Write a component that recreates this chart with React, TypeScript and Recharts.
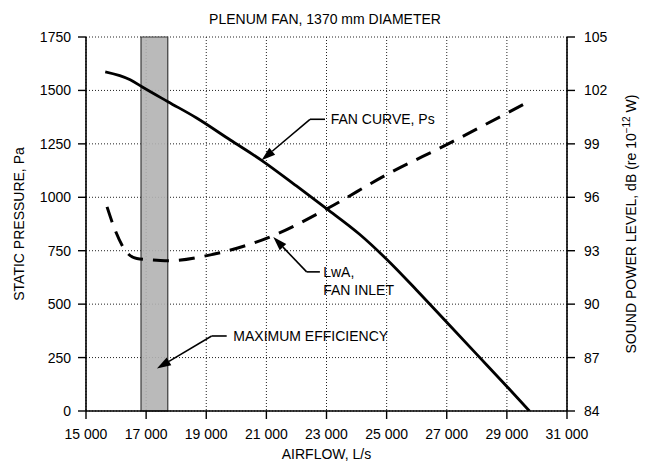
import React from 'react';
import {
  ComposedChart,
  Line,
  XAxis,
  YAxis,
  CartesianGrid,
  ReferenceArea,
  ReferenceLine,
  ReferenceDot,
} from 'recharts';

const FONT = '"Liberation Sans", Arial, Helvetica, sans-serif';

// axis ticks
const airflowTicks = [15000, 17000, 19000, 21000, 23000, 25000, 27000, 29000, 31000];
const pressureTicks = [0, 250, 500, 750, 1000, 1250, 1500, 1750];
const soundTicks = [84, 87, 90, 93, 96, 99, 102, 105];

// fan curve, Ps (Pa) vs airflow (L/s)
const fanAirflow = [15640, 16470, 16860, 17740, 18680, 19800, 20840, 22000, 23000, 24100, 25000, 26000, 27000, 28000, 29000, 29750];
const fanPressure = [1587, 1550, 1517, 1446, 1371, 1268, 1173, 1053, 947, 827, 710, 565, 415, 265, 115, 0];

// LwA at fan inlet, dB
const lwaAirflow = [15700, 15970, 16300, 16690, 17360, 17740, 19230, 21220, 23000, 25000, 27000, 29800];
const lwaLevel = [95.46, 94.15, 93.03, 92.56, 92.47, 92.43, 92.8, 93.84, 95.34, 97.27, 98.96, 101.44];

// maximum efficiency band
const maxEffRange = [16830, 17720];

// callouts: text start, elbow, arrow tip (airflow, pressure)
const fanNote = { text: ['FAN CURVE, Ps'], textAt: [23140, 1365], from: [22950, 1365], elbow: [22450, 1365], tip: [20840, 1173] };
const lwaNote = { text: ['LwA,', 'FAN INLET'], textAt: [22890, 651], from: [22780, 651], elbow: [22340, 651], tip: [21230, 814] };
const effNote = { text: ['MAXIMUM EFFICIENCY'], textAt: [19900, 351], from: [19680, 351], elbow: [19180, 351], tip: [17360, 199] };
const notes = [fanNote, lwaNote, effNote];

const fanData = fanAirflow.map((a, i) => ({ a, p: fanPressure[i] }));
const lwaData = lwaAirflow.map((a, i) => ({ a, db: lwaLevel[i] }));

const fmtThousands = (v: number) => {
  const s = String(v);
  return s.length > 3 ? s.slice(0, s.length - 3) + ' ' + s.slice(-3) : s;
};

const Arrow = (props: any) => {
  const { x1, y1, x2, y2 } = props;
  const ang = Math.atan2(y2 - y1, x2 - x1);
  const len = 14;
  const half = 4.5;
  const bx = x2 - len * Math.cos(ang);
  const by = y2 - len * Math.sin(ang);
  const px = -Math.sin(ang) * half;
  const py = Math.cos(ang) * half;
  return (
    <g>
      <line x1={x1} y1={y1} x2={bx} y2={by} stroke="#000" strokeWidth={1.6} />
      <polygon points={`${x2},${y2} ${bx + px},${by + py} ${bx - px},${by - py}`} fill="#000" />
    </g>
  );
};

const Plain = (props: any) => (
  <line x1={props.x1} y1={props.y1} x2={props.x2} y2={props.y2} stroke="#000" strokeWidth={1.6} />
);

const noteText = (lines: string[]) => (props: any) => (
  <text x={props.cx} y={props.cy} fill="#000" fontSize={14} fontFamily={FONT}>
    {lines.map((l, i) => (
      <tspan key={i} x={props.cx} dy={i === 0 ? '0.35em' : 18}>{l}</tspan>
    ))}
  </text>
);

const LeftLabel = (props: any) => {
  const vb = props.viewBox;
  const x = vb.x + 5;
  const y = vb.y + vb.height / 2;
  return (
    <text x={x} y={y} transform={`rotate(-90, ${x}, ${y})`} textAnchor="middle" dominantBaseline="central" fontSize={14} fill="#000" fontFamily={FONT}>
      STATIC PRESSURE, Pa
    </text>
  );
};

const RightLabel = (props: any) => {
  const vb = props.viewBox;
  const x = vb.x + vb.width - 5;
  const y = vb.y + vb.height / 2;
  return (
    <text x={x} y={y} transform={`rotate(-90, ${x}, ${y})`} textAnchor="middle" dominantBaseline="central" fontSize={14} fill="#000" fontFamily={FONT}>
      SOUND POWER LEVEL, dB (re 10
      <tspan fontSize={10} dy={-5}>−12</tspan>
      <tspan dy={5}> W)</tspan>
    </text>
  );
};

const tickStyle = { fontSize: 14, fill: '#000', fontFamily: FONT };
const axisLine = { stroke: '#000', strokeWidth: 1.6 };
const tickLine = { stroke: '#000', strokeWidth: 1.4 };

export default function App() {
  return (
    <div style={{ position: 'absolute', left: 0, top: 0, width: 650, height: 467, background: '#fff', fontFamily: FONT }}>
      <div style={{ position: 'absolute', left: 0, top: 11, width: 650, textAlign: 'center', fontSize: 14, lineHeight: '16px', color: '#000' }}>
        PLENUM FAN, 1370 mm DIAMETER
      </div>
      <ComposedChart width={650} height={467} margin={{ top: 37, right: 14, bottom: 3, left: 14 }}>
        {/* inward tick marks on every side */}
        <XAxis xAxisId="xin" type="number" dataKey="a" domain={[15000, 31000]} ticks={airflowTicks} orientation="bottom" mirror height={0} tick={false} tickSize={8} axisLine={false} tickLine={tickLine} allowDataOverflow />
        <XAxis xAxisId="xtop" type="number" dataKey="a" domain={[15000, 31000]} ticks={airflowTicks} orientation="top" mirror height={0} tick={false} tickSize={8} axisLine={axisLine} tickLine={tickLine} allowDataOverflow />
        <YAxis yAxisId="pin" type="number" domain={[0, 1750]} ticks={pressureTicks} orientation="left" mirror width={0} tick={false} tickSize={8} axisLine={false} tickLine={tickLine} allowDataOverflow />
        <YAxis yAxisId="dbin" type="number" domain={[84, 105]} ticks={soundTicks} orientation="right" mirror width={0} tick={false} tickSize={8} axisLine={false} tickLine={tickLine} allowDataOverflow />

        <XAxis
          xAxisId="x"
          type="number"
          dataKey="a"
          domain={[15000, 31000]}
          ticks={airflowTicks}
          tickFormatter={fmtThousands}
          tick={tickStyle}
          tickSize={8}
          tickMargin={10}
          height={53}
          axisLine={axisLine}
          tickLine={tickLine}
          allowDataOverflow
          label={{ value: 'AIRFLOW, L/s', position: 'insideBottom', offset: 5, fontSize: 14, fill: '#000' }}
        />
        <YAxis
          yAxisId="p"
          type="number"
          domain={[0, 1750]}
          ticks={pressureTicks}
          tick={tickStyle}
          tickSize={8}
          tickMargin={7}
          width={72}
          axisLine={axisLine}
          tickLine={tickLine}
          allowDataOverflow
          label={<LeftLabel />}
        />
        <YAxis
          yAxisId="db"
          orientation="right"
          type="number"
          domain={[84, 105]}
          ticks={soundTicks}
          tick={tickStyle}
          tickSize={8}
          tickMargin={9}
          width={69}
          axisLine={axisLine}
          tickLine={tickLine}
          allowDataOverflow
          label={<RightLabel />}
        />

        <CartesianGrid xAxisId="x" yAxisId="p" stroke="#222" strokeDasharray="1 2" />

        <ReferenceArea
          xAxisId="x"
          yAxisId="p"
          x1={maxEffRange[0]}
          x2={maxEffRange[1]}
          fill="#b2b2b2"
          fillOpacity={0.9}
          stroke="#3a3a3a"
          strokeWidth={1.2}
        />

        <Line xAxisId="x" yAxisId="p" data={fanData} dataKey="p" type="monotone" stroke="#000" strokeWidth={2.8} dot={false} isAnimationActive={false} />
        <Line xAxisId="x" yAxisId="db" data={lwaData} dataKey="db" type="monotone" stroke="#000" strokeWidth={3} strokeDasharray="16 10" dot={false} isAnimationActive={false} />

        {notes.map((n, i) => (
          <ReferenceLine
            key={`h${i}`}
            xAxisId="x"
            yAxisId="p"
            segment={[{ x: n.from[0], y: n.from[1] }, { x: n.elbow[0], y: n.elbow[1] }]}
            shape={Plain}
          />
        ))}
        {notes.map((n, i) => (
          <ReferenceLine
            key={`a${i}`}
            xAxisId="x"
            yAxisId="p"
            segment={[{ x: n.elbow[0], y: n.elbow[1] }, { x: n.tip[0], y: n.tip[1] }]}
            shape={Arrow}
          />
        ))}
        {notes.map((n, i) => (
          <ReferenceDot key={`t${i}`} xAxisId="x" yAxisId="p" x={n.textAt[0]} y={n.textAt[1]} r={0} shape={noteText(n.text)} />
        ))}
      </ComposedChart>
    </div>
  );
}
